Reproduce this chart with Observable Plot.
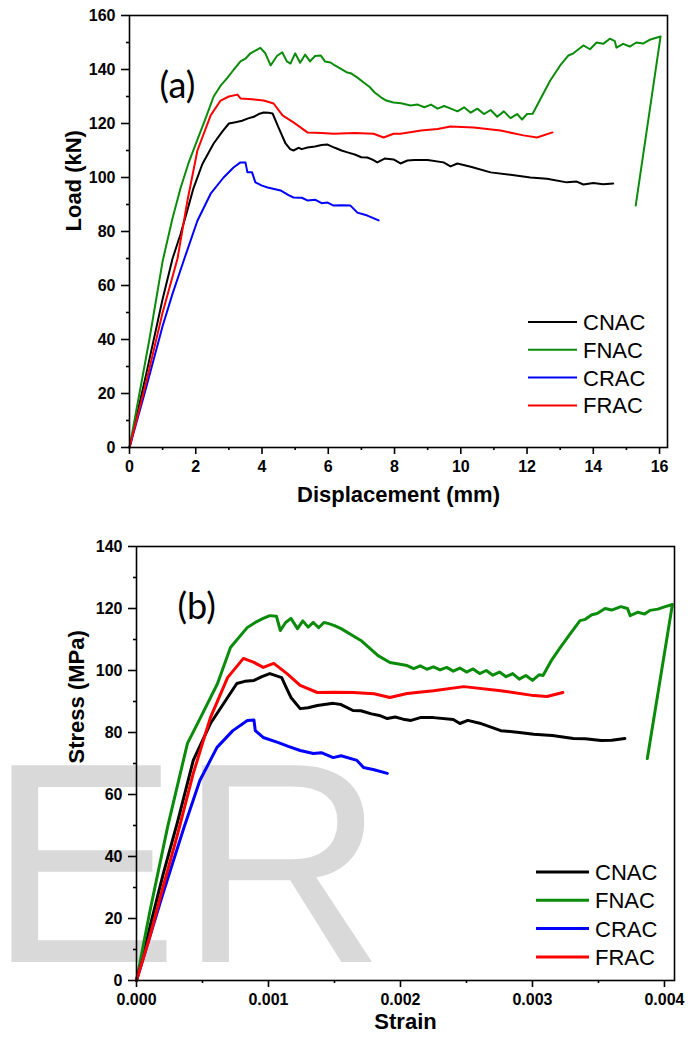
<!DOCTYPE html>
<html>
<head>
<meta charset="utf-8">
<script src="https://cdn.jsdelivr.net/npm/d3@7"></script>
<script src="https://cdn.jsdelivr.net/npm/@observablehq/plot@0.6"></script>
<style>
  html, body { margin: 0; padding: 0; background: #fff; }
  #wrap { width: 696px; }
  #wrap svg { display: block; }
</style>
</head>
<body>
<div id="wrap"></div>
<script>
// ---------- Panel (a): Load vs Displacement ----------
const seriesNames = ["CNAC", "FNAC", "CRAC", "FRAC"];
const seriesColors = ["#000000", "#0a8c0a", "#0000ff", "#ff0000"];

const cnacDisp = [0, 0.5, 1.0, 1.3, 1.54, 1.75, 1.93, 2.2, 2.54, 2.8, 3.0, 3.2, 3.4, 3.56, 3.75, 3.9, 4.05, 4.2, 4.32, 4.5, 4.71, 4.85, 4.95, 5.1, 5.2, 5.37, 5.6, 5.8, 5.98, 6.2, 6.4, 6.58, 6.8, 7.0, 7.18, 7.35, 7.48, 7.7, 7.97, 8.18, 8.39, 8.6, 9.0, 9.48, 9.69, 9.9, 10.3, 10.9, 11.5, 12.1, 12.6, 13.2, 13.5, 13.7, 14.0, 14.3, 14.6];
const cnacLoad = [0, 27, 55, 70, 79, 88, 96, 105, 112.6, 117, 120, 120.5, 121, 121.8, 122.5, 123.5, 124.1, 124, 123.7, 118.5, 112.6, 110.5, 110, 111, 110.5, 111.1, 111.5, 112, 112.2, 111, 110, 109.3, 108.5, 107.5, 107.4, 106.5, 105.6, 107, 106.7, 105.2, 106.3, 106.5, 106.5, 105.6, 104.1, 105.2, 104, 101.9, 101, 100, 99.5, 98.2, 98.5, 97.4, 98, 97.5, 97.8];

const fnacDisp = [0, 0.3, 0.6, 1.0, 1.3, 1.54, 1.8, 2.05, 2.3, 2.54, 2.75, 2.96, 3.15, 3.35, 3.5, 3.65, 3.8, 3.95, 4.1, 4.26, 4.45, 4.61, 4.75, 4.86, 5.0, 5.15, 5.3, 5.45, 5.6, 5.77, 5.9, 6.07, 6.2, 6.37, 6.55, 6.7, 6.88, 7.07, 7.25, 7.4, 7.58, 7.75, 7.97, 8.2, 8.48, 8.7, 8.9, 9.1, 9.3, 9.5, 9.7, 9.9, 10.1, 10.3, 10.5, 10.7, 10.9, 11.1, 11.3, 11.5, 11.7, 11.85, 12.0, 12.17, 12.4, 12.7, 13.0, 13.25, 13.4, 13.7, 13.9, 14.1, 14.3, 14.5, 14.65, 14.7, 14.9, 15.1, 15.3, 15.5, 15.7, 16.03, 15.28];
const fnacLoad = [0, 20, 40, 69, 85, 96, 106, 114, 122, 130, 134, 137, 140, 143, 144, 146, 147, 148, 146, 141.5, 145, 146.4, 143, 142.2, 146, 142.5, 145.5, 143, 145, 145.2, 143, 142.6, 141.5, 140.3, 139, 138.5, 137, 135.2, 133.5, 131.5, 129.8, 128.5, 127.8, 127.5, 126.7, 127, 126, 127, 125.5, 126.5, 125.5, 124.5, 126, 124, 125.5, 123.5, 125, 122.5, 124.5, 122, 123.5, 121.5, 123.5, 123.6, 129, 135.9, 141.5, 145.2, 146, 148.9, 147.5, 150, 149.5, 151.4, 150.5, 148.1, 149.5, 148.5, 150, 149.6, 151, 152.2, 89.6];

const cracDisp = [0, 0.5, 1.0, 1.3, 1.63, 2.05, 2.45, 2.84, 3.14, 3.35, 3.5, 3.56, 3.7, 3.8, 4.0, 4.17, 4.56, 4.8, 4.95, 5.2, 5.37, 5.6, 5.8, 5.98, 6.16, 6.4, 6.67, 6.88, 7.18, 7.52];
const cracLoad = [0, 22, 45, 57, 69, 84, 94, 100, 103.7, 105.6, 105.6, 101.9, 101.9, 98.2, 97, 96.3, 95.2, 93.5, 92.6, 92.5, 91.5, 91.8, 90.5, 90.7, 89.6, 89.7, 89.6, 87, 85.9, 84.1];

const fracDisp = [0, 0.5, 1.0, 1.45, 1.75, 2.05, 2.45, 2.75, 3.0, 3.26, 3.35, 3.7, 4.05, 4.35, 4.62, 4.95, 5.37, 5.8, 6.16, 6.8, 7.37, 7.67, 7.97, 8.18, 8.8, 9.3, 9.69, 10.39, 11.2, 11.89, 12.3, 12.77];
const fracLoad = [0, 24, 50, 70, 91.5, 110, 123, 128.5, 130, 130.7, 129.3, 129, 128.5, 127.4, 123, 120.4, 116.7, 116.5, 116.2, 116.5, 116.2, 114.8, 116.2, 116.2, 117.4, 118, 118.9, 118.5, 117.4, 115.6, 114.8, 116.7];

const dispTicks = [0, 2, 4, 6, 8, 10, 12, 14, 16];
const dispMinor = [1, 3, 5, 7, 9, 11, 13, 15];
const loadTicks = [0, 20, 40, 60, 80, 100, 120, 140, 160];
const loadMinor = [10, 30, 50, 70, 90, 110, 130, 150];

// ---------- Panel (b): Stress vs Strain ----------
const cnacStrain = [0, 0.0001, 0.0002, 0.00031, 0.00043, 0.00056, 0.00069, 0.00076, 0.00082, 0.00089, 0.00095, 0.00101, 0.0011, 0.00114, 0.00117, 0.00124, 0.0013, 0.00137, 0.00149, 0.00155, 0.00164, 0.0017, 0.00178, 0.00184, 0.0019, 0.00196, 0.00202, 0.00208, 0.00215, 0.00225, 0.0024, 0.00245, 0.00251, 0.0026, 0.00276, 0.0029, 0.00301, 0.00315, 0.00331, 0.0034, 0.00352, 0.0036, 0.0037];
const cnacStress = [0, 17, 34, 51, 71, 82.9, 91.3, 95.8, 96.5, 96.8, 98, 99, 97.7, 94, 91.3, 87.7, 88, 88.7, 89.4, 89, 87.1, 87, 86, 85.5, 84.5, 85, 84.3, 83.9, 84.8, 84.8, 84.2, 82.9, 83.9, 83, 80.6, 80, 79.4, 79, 78.1, 78, 77.4, 77.5, 78.1];

const fnacStrain = [0, 0.0001, 0.000235, 0.000386, 0.000485, 0.000614, 0.000712, 0.00084, 0.0009, 0.00096, 0.00101, 0.00106, 0.00109, 0.00113, 0.00117, 0.00122, 0.00126, 0.0013, 0.00134, 0.00138, 0.00142, 0.00145, 0.0015, 0.00155, 0.0017, 0.00183, 0.00192, 0.00205, 0.0021, 0.00215, 0.0022, 0.00225, 0.0023, 0.00235, 0.0024, 0.00245, 0.0025, 0.00255, 0.0026, 0.00265, 0.0027, 0.00275, 0.0028, 0.00285, 0.0029, 0.00295, 0.003, 0.00305, 0.00308, 0.00314, 0.00321, 0.00328, 0.00336, 0.0034, 0.00345, 0.00349, 0.00355, 0.0036, 0.00367, 0.00372, 0.00374, 0.0038, 0.00385, 0.00389, 0.00395, 0.004, 0.00406, 0.00387];
const fnacStress = [0, 22, 49.4, 76.5, 84.8, 95.8, 107.4, 113.9, 115.5, 116.8, 117.7, 117.5, 112.9, 115.5, 116.8, 113.5, 116, 114, 115.5, 113.8, 115.5, 115.2, 114.5, 113.5, 109.7, 104.8, 102.6, 101.6, 100.6, 101.5, 100.4, 101.2, 100.2, 101, 99.8, 100.8, 99.5, 100.5, 99, 100, 98.5, 99.5, 98, 99, 97.2, 98.4, 96.8, 98.6, 98.4, 103, 107.4, 111.5, 116.1, 116.5, 118, 118.4, 120, 119.5, 120.6, 120, 117.7, 118.8, 118.2, 119.4, 119.8, 120.5, 121.3, 71.6];

const cracStrain = [0, 0.0001, 0.0002, 0.00036, 0.00048, 0.00061, 0.00073, 0.00084, 0.00089, 0.0009, 0.00096, 0.00107, 0.00115, 0.00124, 0.00134, 0.0014, 0.00149, 0.00155, 0.00167, 0.00172, 0.0018, 0.0019];
const cracStress = [0, 14, 28, 49.4, 64.5, 75.2, 80.6, 83.9, 84, 80.6, 78.4, 76.8, 75.5, 74.2, 73.2, 73.5, 71.9, 72.5, 71, 68.7, 68, 66.8];

const fracStrain = [0, 0.0001, 0.0002, 0.00031, 0.00043, 0.00056, 0.00069, 0.00081, 0.00089, 0.00096, 0.00104, 0.00114, 0.00124, 0.00137, 0.0015, 0.00164, 0.0018, 0.00192, 0.00205, 0.00225, 0.00248, 0.00276, 0.00301, 0.00311, 0.00323];
const fracStress = [0, 14, 30, 47, 66.8, 84.8, 97.7, 103.9, 102.6, 101, 102.3, 99, 95.2, 92.9, 93, 92.9, 92.5, 91.3, 92.6, 93.5, 94.8, 93.5, 91.9, 91.6, 92.9];

const strainTicks = [0, 0.001, 0.002, 0.003, 0.004];
const strainMinor = [0.0005, 0.0015, 0.0025, 0.0035];
const stressTicks = [0, 20, 40, 60, 80, 100, 120, 140];
const stressMinor = [10, 30, 50, 70, 90, 110, 130];

// ---------- build tables ----------
function table(xs, ys, name) { return xs.map((x, i) => ({x, y: ys[i], name})); }
const dataA = [
  table(cnacDisp, cnacLoad, "CNAC"),
  table(fnacDisp, fnacLoad, "FNAC"),
  table(cracDisp, cracLoad, "CRAC"),
  table(fracDisp, fracLoad, "FRAC")
];
const dataB = [
  table(cnacStrain, cnacStress, "CNAC"),
  table(fnacStrain, fnacStress, "FNAC"),
  table(cracStrain, cracStress, "CRAC"),
  table(fracStrain, fracStress, "FRAC")
];

const FONT = "'Liberation Sans', Arial, Helvetica, sans-serif";

function panel(opts) {
  const lineMarks = opts.data.map((d, i) =>
    Plot.line(d, {x: "x", y: "y", stroke: seriesColors[i], strokeWidth: opts.lw, strokeLinejoin: "round", strokeLinecap: "round"})
  );
  return Plot.plot({
    width: 696,
    height: opts.height,
    marginLeft: opts.ml, marginRight: opts.mr, marginTop: opts.mt, marginBottom: opts.mb,
    style: {fontFamily: FONT, background: "transparent", color: "#000", overflow: "visible"},
    x: {domain: opts.xDomain},
    y: {domain: opts.yDomain},
    marks: [
      ...lineMarks,
      Plot.frame({stroke: "#000", strokeWidth: 1.6}),
      Plot.axisX({ticks: opts.xMajor, tickSize: 7, tickPadding: 6, tickFormat: opts.xFormat, fontSize: 16, fontWeight: "bold", label: null, strokeWidth: 1.6}),
      Plot.axisX({ticks: opts.xMinor, tickSize: 3, tickFormat: () => "", label: null, strokeWidth: 1.6}),
      Plot.axisY({ticks: opts.yMajor, tickSize: 8, tickPadding: 6, tickFormat: d => String(d), fontSize: 16, fontWeight: "bold", label: null, strokeWidth: 1.6}),
      Plot.axisY({ticks: opts.yMinor, tickSize: 3, tickFormat: () => "", label: null, strokeWidth: 1.6}),
      Plot.text([opts.xLabel], {frameAnchor: "bottom", dy: opts.xLabelDy, text: d => d, fontSize: 22, fontWeight: "bold"}),
      Plot.text([opts.yLabel], {frameAnchor: "left", dx: opts.yLabelDx, rotate: -90, text: d => d, fontSize: 22, fontWeight: "bold"}),
      Plot.text([opts.tag], {frameAnchor: "top-left", dx: opts.tagDx, dy: opts.tagDy, text: d => d, fontSize: 36, fontFamily: "Lato, 'Open Sans', sans-serif", textAnchor: "start", lineAnchor: "top", letterSpacing: "1.5px"})
    ]
  });
}

function addLegend(svg, lg) {
  const g = d3.select(svg).append("g").attr("class", "legend").attr("text-anchor", "start");
  seriesNames.forEach((name, i) => {
    const y = lg.y0 + i * lg.step;
    g.append("line").attr("x1", lg.x1).attr("x2", lg.x2).attr("y1", y).attr("y2", y)
      .attr("stroke", seriesColors[i]).attr("stroke-width", lg.lw);
    g.append("text").attr("x", lg.tx).attr("y", y).attr("dy", "0.36em")
      .attr("text-anchor", "start")
      .attr("font-family", FONT).attr("font-size", 22).attr("fill", "#000").text(name);
  });
}

const wrap = document.getElementById("wrap");

const svgA = panel({
  data: dataA, height: 520, ml: 129, mr: 29, mt: 15, mb: 73, lw: 2,
  xDomain: [0, 16.24], yDomain: [0, 160],
  xMajor: dispTicks, xMinor: dispMinor, yMajor: loadTicks, yMinor: loadMinor,
  xFormat: d => String(d),
  xLabel: "Displacement (mm)", yLabel: "Load (kN)", xLabelDy: 54, yLabelDx: -56,
  tag: "(a)", tagDx: 30, tagDy: 57
});
addLegend(svgA, {x1: 528, x2: 577, tx: 583, y0: 322, step: 27.8, lw: 2});
wrap.appendChild(svgA);

const svgB = panel({
  data: dataB, height: 519, ml: 136, mr: 22, mt: 26, mb: 59, lw: 3,
  xDomain: [0, 0.004076], yDomain: [0, 140],
  xMajor: strainTicks, xMinor: strainMinor, yMajor: stressTicks, yMinor: stressMinor,
  xFormat: d3.format(".3f"),
  xLabel: "Strain", yLabel: "Stress (MPa)", xLabelDy: 48, yLabelDx: -60,
  tag: "(b)", tagDx: 41, tagDy: 47
});
// watermark behind everything
d3.select(svgB).insert("text", ":first-child")
  .attr("x", -12).attr("y", 442)
  .attr("text-anchor", "start")
  .attr("font-family", FONT).attr("font-size", 286).attr("fill", "#d9d9d9")
  .text("ER");
addLegend(svgB, {x1: 536, x2: 589, tx: 595, y0: 352, step: 28.3, lw: 3});
wrap.appendChild(svgB);
</script>
</body>
</html>
